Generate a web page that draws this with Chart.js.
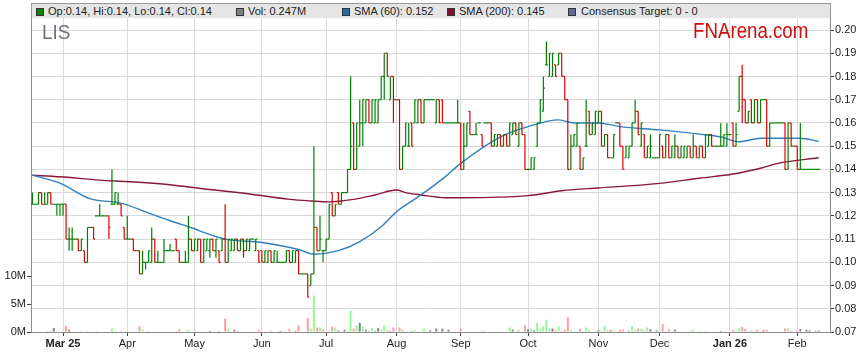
<!DOCTYPE html>
<html>
<head>
<meta charset="utf-8">
<script src="https://cdn.jsdelivr.net/npm/chart.js@4.4.0/dist/chart.umd.min.js"></script>
<style>
  body { margin: 0; background: #fff; font-family: "Liberation Sans", Arial, sans-serif; }
  #wrap { position: relative; width: 859px; height: 363px; }
  #c { position: absolute; left: 0; top: 0; }
  #bar { position: absolute; left: 31px; top: 3px; width: 798px; height: 14px; background: #e5e5e5;
         border-top: 1px solid #999; border-left: 1px solid #999; border-right: 1px solid #999; box-sizing: content-box; }
  #bar .sq { position: absolute; top: 4px; width: 6px; height: 6px; border: 1px solid #333; }
  #bar .tx { position: absolute; top: 1px; font-size: 11px; line-height: 13px; color: #222; white-space: nowrap; }
  #sym { position: absolute; left: 42px; top: 21px; font-size: 21px; line-height: 21px; color: #6e737a;
         transform: scaleX(0.9); transform-origin: left top; }
  #brand { position: absolute; left: 693px; top: 20px; font-size: 22px; line-height: 22px; color: #cc1010;
           transform: scaleX(0.85); transform-origin: left top; white-space: nowrap; }
</style>
</head>
<body>
<div id="wrap">
  <canvas id="c" width="859" height="363"></canvas>
  <div id="bar">
    <span class="sq" style="left:4px;background:#008000"></span><span class="tx" id="lgOhlc" style="left:16px"></span>
    <span class="sq" style="left:204px;background:#808080"></span><span class="tx" id="lgVol" style="left:216px"></span>
    <span class="sq" style="left:310px;background:#1f6fb0"></span><span class="tx" id="lgS60" style="left:322px"></span>
    <span class="sq" style="left:415px;background:#80102e"></span><span class="tx" id="lgS200" style="left:427px"></span>
    <span class="sq" style="left:536px;background:#666699"></span><span class="tx" style="left:549px">Consensus Target: 0 - 0</span>
  </div>
  <div id="sym">LIS</div>
  <div id="brand">FNArena.com</div>
</div>
<script>
// prices in cents, one entry per weekday from 17 Feb 2025
const open = [
  12.5,12.5,12.5,13,12.5,12.5,13,12.5,12.5,12.5,
  12.5,12.5,11,11,11,11,10.5,10.5,10,11.5,
  11.5,12,12,12,12,12,12.5,12.5,12.5,12.5,
  11.5,11,11,11,10.5,10.5,9.5,10,10,10,
  11,10,10,10,10.5,10.5,10.5,11,10.5,10,
  10,10,11,10.5,10.5,11,10,10.5,10.5,11,
  10.5,10.5,10.5,11,10,10.5,10.5,11,10.5,11,
  10.5,10.5,11,10.5,10.5,10.5,10,10,10.5,10,
  10,10,10,10,10.5,10,10,10.5,9.5,9.5,
  9.5,9,9.5,11.5,10.5,10.5,10.5,11,13,12,
  13,12.5,13,13,14,16,14,15,16,16,
  17,16,16,16,17,18,19,17,18,17,
  17,14,15,15,16,16,16,17,16,17,
  17,17,16,17,17,16,16,16,16,16,
  16,14,15,16.5,15.5,15.5,16,15.5,16,16,
  16,15,15,15.5,15,15.5,15,15.5,16,15,
  16,15.5,14,14,14,15,16,16.5,18.5,18,
  18,18.5,18.5,19,18,17,14,15,15,15,
  14,15,16.5,15.5,15.5,16,16.5,15,15.5,14.5,
  14.5,16,16,15,14.5,14.5,15,16,16.5,15,
  15.5,14.5,14.5,14.5,14.5,14.5,15,14.5,15.5,14.5,
  14.5,15,14.5,14.5,14.5,15,14.5,15,14.5,15,
  14.5,15,15.5,15,15,15,15,15,15.5,16,
  15,16.5,18,17,16,17,16,17,16,17,
  17,15,16,16,16,16,16,14,16,15,
  15,14,14,14,14,14,14,14
];
const high = [
  13,12.5,13,13,13,13,13,12.5,12.5,12.5,
  12.5,12.5,11.5,11.5,11,11,11,10.5,11.5,11.5,
  11.5,12,12.5,12,12,12,14,13,13,12.5,
  11.5,12,11,11,10.5,10.5,10.5,10,10.5,11.5,
  11,10.5,10,11,10.5,10.8,10.5,11,10.5,10,
  10.5,12,11,11,11,11,11,11,11,11,
  11,10.5,11,12.5,11,11,11,11,11,11,
  11,11,11,11,10.5,10.5,10.5,10.5,10.5,10.5,
  10.5,10,10,10.5,10.5,10.5,10.5,10.5,9.5,9.5,
  9.5,9.5,15,11.5,12,10.5,11,12.5,13,12.5,
  13,13,13,14,18,16,16,17,17,17,
  17,17,17,17,18,19,19,18,18,17,
  17,15,16,16,16,17,17,17,17,17,
  17,17,17,17,17,16,16,16,16,17,
  16,16,16,16.5,15.5,16,16,15.5,16,16,
  16,15.5,15.5,15.5,15.5,15.5,16,16,16,16,
  16,15.5,14,14.5,14.5,16,17,18,19.5,19,
  19,18.5,19,19,18,17,15.5,15.5,16,15,
  14.5,17,16.5,16,16.5,16.5,16.5,15.5,15.5,14.5,
  15.5,16,16,15,15,15,16,17,16.5,16,
  15.5,15,15.5,14.5,14.5,15.5,15,15.5,15.5,15,
  15.5,15,15,15,15,15,15.5,15,15,15,
  15.5,15.5,15.5,15,15,16,15.5,16,15.5,16,
  16,18,18.5,17,16.5,17,17,17,17,17,
  17,16,16,16,16,16,16,16,16,15,
  15,16,14,14,14,14,14,14
];
const low = [
  12.5,12.5,12.5,12.5,12.5,12.5,12.5,12.5,12,12,
  12,11,10.5,10.5,11,10.5,10.5,10,10,11.5,
  11,12,12,12,12,11,12.5,12.5,12.5,12,
  11,11,11,10.5,10.5,9.5,9.5,9.7,10,10,
  10,10,10,10,10.5,10.5,10.5,10.5,10,10,
  10,10,10.5,10.5,10.5,10,10,10.5,10.2,10.5,
  10.2,10,10.5,10,10,10.5,10.5,10.5,10.5,10.2,
  10.5,10.5,11,10.5,10,10,10,10,10,10,
  10,10,10,10,10,10,10,9.5,9.5,9.5,
  8.5,9,9.5,10.5,10.5,10,10.5,11,12,12,
  12.5,12.5,13,13,14,14,14,15,15,16,
  16,16,16,16,17,17,18,17,16,17,
  14,14,15,15,15,16,16,16,16,17,
  17,17,16,16,16,16,16,16,16,16,
  14,14,15,15.5,15.5,15.5,16,15,16,16,
  15,15,15,15,15,15,15,15.5,15.5,15,
  15.5,14,14,14,14,15,16,16.5,18.5,18,
  18,18,18.5,18,17,14,14,15,15,14,
  14,15,15.5,15.5,15.5,16,15,15,14.5,14.5,
  14.5,16,15,14,14.5,14.5,15,16,15.5,15,
  14.5,14.5,14.5,14.5,14.5,14.5,14.5,14.5,14.5,14.5,
  14.5,14.5,14.5,14.5,14.5,14.5,14.5,14.5,14.5,14.5,
  14.5,15,15,15,15,15,15,15,15.5,15,
  15,16.5,16,16,16,16,16,16,16,17,
  15,15,16,16,16,16,14,14,15,15,
  14,14,14,14,14,14,14,14
];
const close = [
  12.5,12.5,13,12.5,12.5,13,12.5,12.5,12.5,12.5,
  12.5,11,11,11,11,10.5,11,10,11.5,11.5,
  11,12,12,12,12,11.5,12.5,13,12.5,12,
  11,11,11,10.5,10.5,9.5,10,10,10.5,11,
  10,10,10,10.5,10.5,10.5,10.5,10.5,10,10,
  10,11,10.5,11,11,10,11,11,11,10.5,
  11,10,11,10,11,11,11,10.5,11,10.5,
  11,11,11,11,10,10,10.5,10.5,10,10.5,
  10,10,10,10.5,10,10.5,10.5,9.5,9.5,9.5,
  8.5,9.5,11.5,10.5,11,10.5,11,12.5,12,12.5,
  12.5,13,13,14,15,14,16,16,17,17,
  16,17,17,17,18,19,18,18,17,17,
  14,15,16,15,15,17,17,16,17,17,
  17,17,17,16,16,16,16,16,16,16,
  14,15,16,15.5,15.5,15.5,16,15,16,16,
  15,15.5,15.5,15,15.5,15,16,16,15.5,16,
  15.5,14,14,14.5,14.5,16,17,17.5,18.5,19,
  19,18,19,18,17,14,15,15.5,16,14,
  14.5,15,15.5,16,16.5,16.5,15,15.5,14.5,14.5,
  15.5,16,15,14,15,15,16,16.5,15.5,16,
  14.5,15,15,14.5,14.5,15.5,14.5,15.5,14.5,15,
  15,14.5,15,15,15,14.5,15,14.5,15,14.5,
  15.5,15.5,15,15,15,15,15.5,15.5,15.5,15,
  15.5,18,17,16,16.5,16,17,16,17,17,
  15,16,16,16,16,16,14,16,15,15,
  14,14,14,14,14,14,14,14
];
// volume, millions of shares
const volume = [
  0,0.1,0,0.1,0,0.2,0.2,0.7,0.1,0,
  0,1.1,0.4,0,0,0.1,0.2,0.1,0.2,0,
  0.1,0.2,0,0,0,0.1,0.6,0.2,0.1,0.2,
  0.1,0,0,0.1,0,1.0,0.5,0.1,0.2,0.1,
  0.1,0,0,0.1,0,0,0,0.1,0.5,0,
  0.1,0.4,0.1,0.3,0,0.1,0.1,0,0.2,0.1,
  0,0.2,0.1,2.4,0.6,0.1,0.4,0.2,0,0.1,
  0,0,0,0.1,0.4,0.1,0,0,0.2,0,
  0.1,0.2,0,0.1,0.5,0.1,0.2,1.2,0.1,0,
  2.5,0.5,6.5,0.8,0.8,0.5,0.1,0.3,1.0,0.8,
  0.3,0.1,0.4,0.3,3.8,0.6,1.2,1.65,1.0,0.4,
  0.2,0.7,0.2,0.7,0.5,1.2,0.3,0.2,0.8,0.1,
  0.8,0.4,0.1,0.1,0.2,0.3,0.1,0,0.6,0,
  0.3,0,0.6,0.1,0.6,0,0.4,0,0,0.1,
  0.6,0.1,0,0.1,0,0,0,0.2,0.2,0,
  0.1,0,0,0.1,0,0.1,0.8,0.4,0.1,0.4,
  0.1,1.2,0.5,0.6,0.3,1.6,0.6,1.0,2.2,0.6,
  0.6,0.3,1.0,0.2,0.4,2.6,0.4,0.1,0.1,0.6,
  0.2,0.8,0.4,0.1,0.2,0.3,0.2,1.0,0.3,0.3,
  0.3,0.1,0.4,0.4,0.1,0.2,1.0,0.4,0.6,0.6,
  0.3,0.8,0.5,0.1,0.3,0.1,1.4,0.2,0.5,0.1,
  0.4,0.1,0.1,0,0.1,0.2,0.4,0.1,0.2,0.1,
  0.2,0.1,0,0,0,0.2,0.1,0.1,0,0.4,
  0.3,0.7,0.9,0.5,0.2,0.3,0.2,0.4,0.1,0.3,
  0.4,0.1,0,0,0,0,0.6,0.6,0.2,0,
  0.3,0.5,0.1,0.4,0.3,0,0.2,0.247
];
// moving averages (day index, cents)
const sma60Day = [0,9,19,29,38,45,51,63,75,87,92,100,107,114,119,127,135,140,153,162,172,177,185,192,205,218,225,231,238,251,257];
const sma60 = [13.75,13.41,12.73,12.55,12.12,11.79,11.53,11.0,10.85,10.55,10.35,10.5,10.89,11.53,12.18,12.9,13.69,14.26,15.4,15.84,16.13,16.0,16.0,15.84,15.7,15.52,15.4,15.19,15.34,15.34,15.2];
const sma200Day = [0,9,22,32,45,55,71,84,91,97,105,112,119,122,127,135,140,162,173,177,185,205,218,229,238,244,257];
const sma200 = [13.75,13.68,13.54,13.47,13.34,13.18,12.94,12.71,12.64,12.6,12.71,12.9,13.11,13.0,12.9,12.78,12.78,12.87,13.08,13.13,13.2,13.4,13.62,13.8,14.05,14.27,14.5];

// axis ticks
const monthDay = [10,31,53,75,96,119,140,162,185,205,228,250];
const monthLabels = ["Mar 25","Apr","May","Jun","Jul","Aug","Sep","Oct","Nov","Dec","Jan 26","Feb"];
const priceTicks = [7,8,9,10,11,12,13,14,15,16,17,18,19,20];
const volTicks = [0,5,10];

const last = close.length - 1;
const c2 = v => (v / 100).toFixed(2);
document.getElementById("lgOhlc").textContent =
  "Op:" + c2(open[last]) + ", Hi:" + c2(high[last]) + ", Lo:" + c2(low[last]) + ", Cl:" + c2(close[last]);
document.getElementById("lgVol").textContent = "Vol: " + volume[last].toFixed(3) + "M";
document.getElementById("lgS60").textContent = "SMA (60): " + (sma60[sma60.length - 1] / 100).toFixed(3);
document.getElementById("lgS200").textContent = "SMA (200): " + (sma200[sma200.length - 1] / 100).toFixed(3);

Chart.defaults.font.family = '"Liberation Sans", Arial, sans-serif';
Chart.defaults.font.size = 11;
Chart.defaults.color = "#222";

const days = close.map((_, i) => i);
const barColor = days.map(i => close[i] >= open[i] ? "#008000" : "#dd0000");
const volColor = days.map(i => {
  if (i === 0 || close[i] === close[i - 1]) return "#808080";
  return close[i] > close[i - 1] ? "#99f599" : "#ff9c9c";
});

const TICK = 0.25; // open/close tick offset, in days

new Chart(document.getElementById("c"), {
  type: "scatter",
  data: {
    datasets: [
      {
        type: "bar", label: "range",
        data: days.map(i => ({ x: i, y: [low[i], high[i]] })),
        backgroundColor: barColor, grouped: false, maxBarThickness: 1.2,
        inflateAmount: 0, borderWidth: 0, yAxisID: "y"
      },
      {
        label: "open",
        data: days.map(i => ({ x: i - TICK, y: open[i] })),
        pointStyle: "line", pointRadius: 0.78, pointBorderWidth: 1.2,
        pointBorderColor: barColor, pointBackgroundColor: barColor, yAxisID: "y"
      },
      {
        label: "close",
        data: days.map(i => ({ x: i + TICK, y: close[i] })),
        pointStyle: "line", pointRadius: 0.78, pointBorderWidth: 1.2,
        pointBorderColor: barColor, pointBackgroundColor: barColor, yAxisID: "y"
      },
      {
        type: "line", label: "SMA (60)",
        data: sma60Day.map((d, k) => ({ x: d, y: sma60[k] })),
        borderColor: "#2f80c2", borderWidth: 1.4, pointRadius: 0,
        cubicInterpolationMode: "monotone", yAxisID: "y"
      },
      {
        type: "line", label: "SMA (200)",
        data: sma200Day.map((d, k) => ({ x: d, y: sma200[k] })),
        borderColor: "#8a1838", borderWidth: 1.4, pointRadius: 0,
        cubicInterpolationMode: "monotone", yAxisID: "y"
      },
      {
        type: "bar", label: "Vol",
        data: days.map(i => ({ x: i, y: volume[i] })),
        backgroundColor: volColor, grouped: false, maxBarThickness: 2,
        inflateAmount: 0, borderWidth: 0, yAxisID: "yVol"
      }
    ]
  },
  options: {
    responsive: false,
    devicePixelRatio: 1,
    animation: false,
    events: [],
    layout: { padding: { top: 17, left: 0, right: 0, bottom: 0 } },
    plugins: { legend: { display: false }, tooltip: { enabled: false } },
    scales: {
      x: {
        type: "linear", min: -0.46, max: 260.7, offset: false,
        afterBuildTicks: s => { s.ticks = monthDay.map(v => ({ value: v })); },
        afterFit: s => { s.height = 31; },
        ticks: {
          autoSkip: false, maxRotation: 0, padding: 1, color: "#222",
          callback: (v, i) => monthLabels[i],
          font: ctx => ({ size: 11, weight: (ctx.index === 0 || ctx.index === 10) ? "bold" : "normal" })
        },
        grid: { color: "#d9d9d9", tickLength: 4, tickColor: "#444", offset: false },
        border: { color: "#8c8c8c" }
      },
      y: {
        type: "linear", position: "right", min: 7, max: 20.56,
        afterBuildTicks: s => { s.ticks = priceTicks.map(v => ({ value: v })); },
        afterFit: s => { s.width = 29; },
        ticks: { padding: 1, color: "#222", callback: v => c2(v) },
        grid: { color: "#d9d9d9", tickLength: 4, tickColor: "#444" },
        border: { color: "#8c8c8c" }
      },
      yVol: {
        type: "linear", position: "left", min: 0, max: 56.25,
        afterBuildTicks: s => { s.ticks = volTicks.map(v => ({ value: v })); },
        afterFit: s => { s.width = 31; },
        ticks: { padding: 1, color: "#222", callback: v => v + "M" },
        grid: { drawOnChartArea: false, tickLength: 4, tickColor: "#444" },
        border: { color: "#8c8c8c" }
      }
    }
  }
});
</script>
</body>
</html>
